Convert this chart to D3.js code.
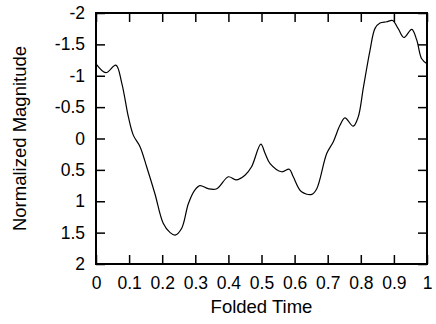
<!DOCTYPE html>
<html>
<head>
<meta charset="utf-8">
<script src="https://cdn.jsdelivr.net/npm/d3@7"></script>
<style>
  body { margin: 0; background: #fff; }
  text { font-family: "Liberation Sans", Arial, sans-serif; fill: #000; }
</style>
</head>
<body>
<div id="chart"></div>
<script>
// folded phase and normalized magnitude
const phase = [0, 0.03, 0.06, 0.078, 0.098, 0.113, 0.133, 0.153, 0.178, 0.203, 0.224, 0.239, 0.259, 0.279, 0.299, 0.314, 0.339, 0.365, 0.4, 0.423, 0.45, 0.47, 0.498, 0.511, 0.526, 0.561, 0.584, 0.596, 0.621, 0.652, 0.667, 0.697, 0.717, 0.737, 0.752, 0.777, 0.792, 0.808, 0.828, 0.843, 0.858, 0.878, 0.896, 0.913, 0.93, 0.954, 0.969, 0.984, 1];
const magnitude = [-1.19, -1.05, -1.17, -0.88, -0.34, -0.05, 0.13, 0.45, 0.88, 1.35, 1.5, 1.54, 1.43, 1.04, 0.82, 0.75, 0.8, 0.8, 0.61, 0.66, 0.585, 0.45, 0.09, 0.24, 0.4, 0.53, 0.49, 0.61, 0.85, 0.89, 0.8, 0.24, 0.05, -0.21, -0.33, -0.196, -0.34, -0.82, -1.41, -1.755, -1.84, -1.86, -1.88, -1.75, -1.61, -1.74, -1.57, -1.27, -1.19];
const xTicks = [0, 0.1, 0.2, 0.3, 0.4, 0.5, 0.6, 0.7, 0.8, 0.9, 1];
const yTicks = [-2, -1.5, -1, -0.5, 0, 0.5, 1, 1.5, 2];

const svg = d3.select('#chart')
  .append('svg')
  .attr('width', 436)
  .attr('height', 324);

const margin = { top: 13, right: 9, bottom: 60, left: 96 };
const width = 436 - margin.left - margin.right;
const height = 324 - margin.top - margin.bottom;

const x = d3.scaleLinear().domain([0, 1]).range([0, width]);
const y = d3.scaleLinear().domain([-2, 2]).range([0, height]);

const g = svg.append('g')
  .attr('transform', `translate(${margin.left},${margin.top})`);

const fmt = d => String(d);
const tick = 9;

// bottom and top axes, ticks pointing inward
g.append('g')
  .attr('transform', `translate(0,${height})`)
  .call(d3.axisBottom(x).tickValues(xTicks).tickFormat(fmt).tickSizeInner(-tick).tickSizeOuter(0).tickPadding(13))
  .call(a => a.select('.domain').remove());
g.append('g')
  .call(d3.axisTop(x).tickValues(xTicks).tickFormat('').tickSizeInner(-tick).tickSizeOuter(0))
  .call(a => a.select('.domain').remove());

// left and right axes
g.append('g')
  .call(d3.axisLeft(y).tickValues(yTicks).tickFormat(fmt).tickSizeInner(-tick).tickSizeOuter(0).tickPadding(11))
  .call(a => a.select('.domain').remove());
g.append('g')
  .attr('transform', `translate(${width},0)`)
  .call(d3.axisRight(y).tickValues(yTicks).tickFormat('').tickSizeInner(-tick).tickSizeOuter(0))
  .call(a => a.select('.domain').remove());

g.selectAll('.tick line').attr('stroke', '#000').attr('stroke-width', 1.5);
g.selectAll('.tick text').style('font-size', '17.5px');

g.append('rect')
  .attr('width', width)
  .attr('height', height)
  .attr('fill', 'none')
  .attr('stroke', '#000')
  .attr('stroke-width', 2);

const points = phase.map((p, i) => [p, magnitude[i]]);
g.append('path')
  .datum(points)
  .attr('fill', 'none')
  .attr('stroke', '#000')
  .attr('stroke-width', 1.2)
  .attr('d', d3.line()
    .x(d => x(d[0]))
    .y(d => y(d[1]))
    .curve(d3.curveCatmullRom.alpha(0.5)));

svg.append('text')
  .attr('x', margin.left + width / 2)
  .attr('y', 313)
  .attr('text-anchor', 'middle')
  .style('font-size', '18.5px')
  .text('Folded Time');

svg.append('text')
  .attr('transform', `translate(26,${margin.top + height / 2}) rotate(-90)`)
  .attr('text-anchor', 'middle')
  .style('font-size', '18.5px')
  .text('Normalized Magnitude');
</script>
</body>
</html>
